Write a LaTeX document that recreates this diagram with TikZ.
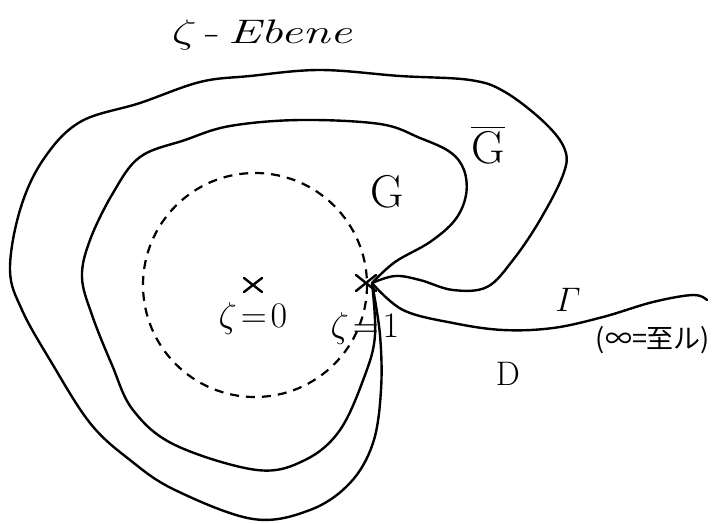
\documentclass[tikz,border=0pt]{standalone}
\usepackage{fix-cm}
\usepackage{fontspec}
\usepackage{amsmath}
\usetikzlibrary{calc}
\newfontfamily\cjk{Noto Sans CJK JP}
\tikzset{
  curve/.style={line width=2.4pt, line cap=round, line join=round},
  circ/.style={line width=2.2pt, dash pattern=on 9pt off 7pt},
  crossmark/.style={line width=2.4pt, line cap=round},
  lbl/.style={inner sep=0pt, font=\fontsize{36}{38}\selectfont},
  midlbl/.style={inner sep=0pt, font=\fontsize{34}{36}\selectfont},
  biglbl/.style={inner sep=0pt, font=\fontsize{46}{48}\selectfont},
}
\begin{document}
\begin{tikzpicture}[x=1pt,y=-1pt]
\useasboundingbox (0,0) rectangle (716,523);
\coordinate (z1) at (372,283);
\coordinate (z0) at (255,285);
% outer curve
\draw[curve] plot[smooth, tension=0.6] coordinates {
 (z1) (395,276) (420,280) (453,290) (487,287) (513,260) (540,220) (563,175)
 (565,150) (545,123) (505,92) (470,80) (400,76) (320,70) (250,76) (200,82)
 (140,103) (80,122) (43,160) (20,210) (10,270) (22,310) (50,360)
 (90,423) (130,460) (175,490) (253,519) (310,510) (350,483) (373,443)
 (381,390) (380,335) (z1)};
% inner curve
\draw[curve] plot[smooth, tension=0.6] coordinates {
 (z1) (395,262) (430,242) (455,220) (466,195) (464,170) (450,152) (420,138)
 (380,124) (300,120) (230,126) (185,140) (140,157) (113,193) (90,240)
 (82,277) (92,315) (112,365) (133,410) (175,445) (257,470) (305,460)
 (340,430) (365,375) (375,335) (z1)};
% Gamma curve
\coordinate (gend) at (707,300);
\draw[curve] plot[smooth, tension=0.6] coordinates {
 (z1) (403,310) (453,323) (503,330) (553,328) (603,317) (653,302) (693,295) (gend)};
% dashed circle
\draw[circ] (z0) circle[radius=112];
% crosses
\draw[crossmark] ($(253,285)+(-9,-7)$) -- ++(18,14) ($(253,285)+(9,-7)$) -- ++(-18,14);
\draw[crossmark] ($(z1)+(-16,-8)$) -- ++(20,16) ($(z1)+(4,-8)$) -- ++(-20,16);
% labels
\node[midlbl, xscale=1.45] (t) at (262,35) {$\zeta$\,-\,\textit{Ebene}};
\node[lbl] (l0) at (253,318) {$\zeta\!=\!0$};
\node[lbl] (l1) at (365,328) {$\zeta\!=\!1$};
\node[biglbl] (G) at (387,192) {G};
\node[biglbl] (Gb) at (488,145) {$\overline{\mathrm{G}}$};
\node[midlbl] (Gam) at (568,300) {$\varGamma$};
\node[midlbl] (D) at (508,374) {D};
\node[inner sep=0pt, font=\cjk\fontsize{27}{29}\selectfont] (inf) at (653,340) {(∞=至ル)};
\end{tikzpicture}
\end{document}
